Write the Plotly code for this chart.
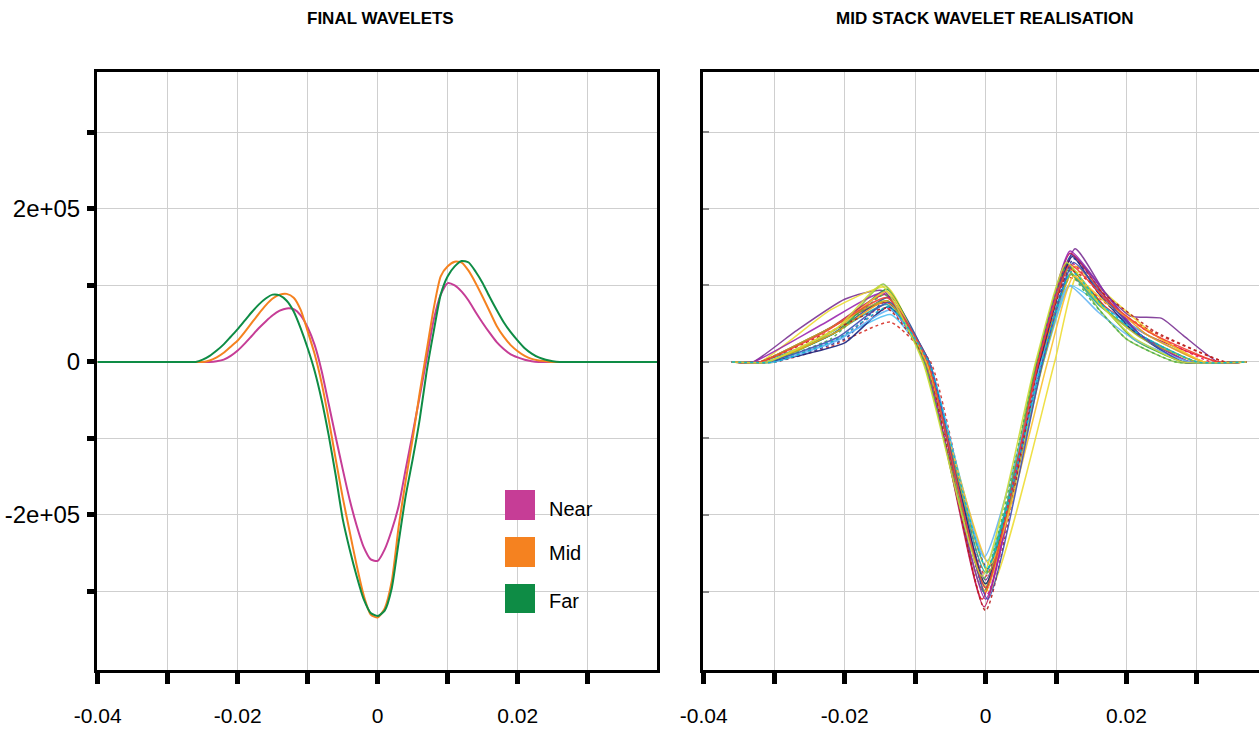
import plotly.graph_objects as go

# ---------------- data (time in ms, amplitude in thousands) ----------------
t_final = [-40, -30, -29, -28, -27, -26, -25, -24, -23, -22, -21, -20, -19, -18, -17, -16, -15, -14,
           -13, -12, -11, -10, -9, -8, -7, -6, -5, -4, -3, -2, -1, 0, 1, 2, 3, 4, 5, 6, 7, 8, 9,
           10, 11, 12, 13, 14, 15, 16, 17, 18, 19, 20, 21, 22, 23, 24, 25, 26, 27, 28, 29, 30, 40]

near_k = [0, 0, 0, 0, 0, 0, 0, 0, 1, 3, 8, 15, 24, 34, 44, 53, 61, 67,
          70, 69, 61, 45, 22, -12, -55, -98, -140, -180, -214, -242, -258, -260, -245, -220, -188, -140, -93, -45, 5, 55, 88,
          103, 100, 92, 80, 65, 51, 38, 26, 17, 10, 6, 3, 1, 0, 0, 0, 0, 0, 0, 0, 0, 0]

mid_k = [0, 0, 0, 0, 0, 0, 0, 2, 6, 12, 20, 28, 39, 51, 63, 74, 83, 88,
         89, 84, 68, 40, 10, -28, -75, -127, -177, -222, -266, -305, -330, -334, -322, -287, -215, -155, -100, -40, 15, 70, 112,
         125, 131, 130, 119, 103, 85, 66, 47, 33, 22, 14, 8, 4, 2, 1, 0, 0, 0, 0, 0, 0, 0]

far_k = [0, 0, 0, 0, 0, 0, 3, 8, 15, 23, 33, 43, 54, 65, 75, 83, 88, 87,
         80, 66, 44, 18, -12, -50, -96, -148, -205, -245, -280, -310, -328, -332, -325, -296, -235, -175, -127, -75, -12, 40, 88,
         112, 125, 132, 130, 118, 103, 85, 68, 52, 39, 28, 18, 11, 6, 3, 1, 0, 0, 0, 0, 0, 0]

series_names = ["Near", "Mid", "Far"]
series_colors = ["#C63D96", "#F58220", "#0E8C45"]

# Mid stack wavelet realisations: knot times (ms) and amplitudes (thousands)
real_t = [
    [-36, -33, -27, -20, -14.5, -8.3, 0, 7.6, 12.7, 17, 20.5, 25, 28, 33, 37],
    [-36, -32, -22, -14, -8.8, 0.5, 9.8, 13.2, 18, 24, 31, 37],
    [-36, -32, -24, -14, -8, -0.5, 7.5, 11.5, 17, 23, 33, 37],
    [-36, -30, -22, -13.5, -7.8, 0, 7.8, 12, 18, 24, 34, 37],
    [-36, -31, -22, -13.5, -8.2, 0, 7.6, 12.2, 17, 22, 29, 37],
    [-36, -30, -20, -14, -8.5, 0.3, 8, 12.5, 17, 22, 30, 37],
    [-36, -31, -21, -14, -8.6, -0.3, 7.3, 11.5, 16, 21, 28, 37],
    [-36, -30, -20, -14.5, -8.8, 0, 7.2, 11.7, 16, 20, 27, 37],
    [-36, -31, -22, -13.5, -8.2, 0.2, 8.2, 12, 17, 23, 31, 37],
    [-36, -32, -22, -14, -8.3, 0, 7.8, 12, 16, 22, 30, 37],
    [-36, -31, -21, -14, -8, 0, 7.7, 12.8, 18, 23, 31, 37],
    [-36, -32, -22, -14.2, -8.4, -0.2, 7.4, 12, 17, 22, 29, 37],
    [-36, -30, -21, -13.8, -8.1, 0.1, 7.6, 11.8, 17, 23, 32, 37],
    [-36, -31, -20, -13.8, -8, 0, 7.7, 12.3, 16, 21, 28, 37],
    [-36, -33, -23, -14.5, -8.6, 0, 7.5, 12, 17, 22, 29, 37],
    [-36, -32, -23, -14, -8.5, 0.4, 8.2, 12.2, 16.5, 22, 30, 37],
    [-36, -30, -21, -13.5, -8, -0.2, 7.9, 11.8, 16, 21, 29, 37],
    [-36, -32, -22, -14, -8.4, 0, 7.6, 12, 18, 24, 34, 37],
    [-36, -31, -22, -14.3, -8.7, -0.4, 7.3, 11.3, 15, 20, 27, 37],
    [-36, -31, -21, -14, -8.4, 0.6, 8.8, 12.5, 17, 24, 31, 37],
    [-36, -31, -21, -13.6, -8, 0.3, 8.1, 12.5, 17, 22, 28, 37],
    [-36, -32, -23, -14, -8.2, 0, 7.5, 12, 17, 23, 33, 37],
    [-36, -31, -21, -14.8, -8.9, -0.5, 7.1, 11.5, 16, 21, 28, 37],
    [-36, -30, -21, -13.7, -8.1, 0.2, 8, 12.2, 16.5, 22, 30, 37],
]
real_k = [
    [0, 0, 40, 82, 93, 0, -285, 0, 148, 90, 60, 57, 35, 0, 0],
    [0, 0, 68, 98, 0, -300, 0, 118, 82, 35, 0, 0],
    [0, 0, 35, 78, 0, -310, 0, 125, 72, 35, 0, 0],
    [0, 0, 20, 52, 0, -280, 0, 110, 70, 38, 0, 0],
    [0, 0, 35, 85, 0, -295, 0, 140, 90, 35, 0, 0],
    [0, 0, 30, 80, 0, -270, 0, 135, 85, 35, 0, 0],
    [0, 0, 40, 95, 0, -300, 0, 128, 80, 30, 0, 0],
    [0, 0, 50, 102, 0, -290, 0, 120, 70, 30, 0, 0],
    [0, 0, 25, 62, 0, -260, 0, 100, 70, 35, 0, 0],
    [0, 0, 35, 75, 0, -275, 0, 115, 75, 35, 0, 0],
    [0, 0, 40, 80, 0, -300, 0, 125, 75, 35, 0, 0],
    [0, 0, 45, 88, 0, -320, 0, 142, 85, 35, 0, 0],
    [0, 0, 30, 70, 0, -305, 0, 132, 80, 40, 0, 0],
    [0, 0, 25, 72, 0, -290, 0, 138, 90, 40, 0, 0],
    [0, 0, 50, 90, 0, -310, 0, 145, 90, 35, 0, 0],
    [0, 0, 40, 80, 0, -275, 0, 115, 72, 32, 0, 0],
    [0, 0, 28, 68, 0, -255, 0, 100, 65, 30, 0, 0],
    [0, 0, 40, 70, 0, -325, 0, 120, 80, 40, 0, 0],
    [0, 0, 30, 88, 0, -285, 0, 122, 80, 30, 0, 0],
    [0, 0, 45, 92, 0, -265, 0, 112, 78, 35, 0, 0],
    [0, 0, 32, 78, 0, -310, 0, 130, 82, 35, 0, 0],
    [0, 0, 38, 84, 0, -295, 0, 127, 82, 40, 0, 0],
    [0, 0, 45, 100, 0, -280, 0, 130, 78, 32, 0, 0],
    [0, 0, 30, 72, 0, -270, 0, 118, 75, 35, 0, 0],
]
real_colors = ["#7B3294", "#EEDD33", "#E41A1C", "#D73027", "#1F4E9E", "#283593", "#2E9E3E", "#8BC34A",
               "#4FC3F7", "#26A69A", "#F39C12", "#C2185B", "#E91E63", "#1A237E", "#9C27B0", "#AFB42B",
               "#64B5F6", "#B71C1C", "#4CAF50", "#FBC02D", "#3F51B5", "#F44336", "#CDDC39", "#00BCD4"]
real_dash = ["solid", "solid", "solid", "dot", "solid", "dot", "solid", "solid",
             "solid", "solid", "solid", "solid", "dot", "solid", "solid", "solid",
             "solid", "dot", "dot", "solid", "solid", "solid", "solid", "dot"]

x_ticks = [-0.04, -0.03, -0.02, -0.01, 0, 0.01, 0.02, 0.03]
x_ticktext = ["-0.04", "", "-0.02", "", "0", "", "0.02", ""]
y_ticks = [-300000, -200000, -100000, 0, 100000, 200000, 300000]
y_ticktext = ["", "-2e+05", "", "0", "", "2e+05", ""]

# ---------------- figure ----------------
fig = go.Figure()
finals = [near_k, mid_k, far_k]
for name, col, vals in zip(series_names, series_colors, finals):
    fig.add_trace(go.Scatter(
        x=[t / 1000 for t in t_final], y=[v * 1000 for v in vals],
        mode="lines", name=name, line=dict(color=col, width=2, shape="spline", smoothing=0.6),
        xaxis="x", yaxis="y", showlegend=False))

for tt, kk, col, dsh in zip(real_t, real_k, real_colors, real_dash):
    fig.add_trace(go.Scatter(
        x=[t / 1000 for t in tt], y=[v * 1000 for v in kk],
        mode="lines", line=dict(color=col, width=1.5, dash=dsh, shape="spline", smoothing=0.5),
        xaxis="x2", yaxis="y2", showlegend=False, opacity=0.9))

# the page body margin is removed in post_script, so the figure fills the window
W, H = 1259, 729


def px(x):
    return x / W


def py(y):
    return 1 - y / H


dom_y = [py(670), py(72)]
yrange = [-402600, 379000]
xfont = dict(family="Liberation Sans, Arial, sans-serif", size=21, color="black")
yfont = dict(family="Liberation Sans, Arial, sans-serif", size=24, color="black")

common_x = dict(tickvals=x_ticks, ticktext=x_ticktext, ticks="outside", ticklen=11, tickwidth=5,
                tickcolor="black", showline=True, linecolor="black", linewidth=3,
                showgrid=True, gridcolor="#cfcfcf", gridwidth=1, zeroline=False,
                tickfont=xfont, ticklabelstandoff=14, automargin=False)

fig.update_layout(
    width=W, height=H, paper_bgcolor="white", plot_bgcolor="white",
    margin=dict(l=0, r=0, t=0, b=0, pad=0), showlegend=False,
    xaxis=dict(domain=[px(97), px(657)], range=[-0.0401, 0.0399], anchor="y", mirror=True, **common_x),
    yaxis=dict(domain=dom_y, range=yrange, anchor="x", tickvals=y_ticks, ticktext=y_ticktext,
               ticks="outside", ticklen=7, tickwidth=5, tickcolor="black", showline=True,
               linecolor="black", linewidth=3, mirror=True, showgrid=True, gridcolor="#cfcfcf",
               zeroline=False, tickfont=yfont, ticklabelstandoff=2, automargin=False),
    xaxis2=dict(domain=[px(703), 1.0], range=[-0.0401, 0.0388], anchor="y2", mirror=True, **common_x),
    yaxis2=dict(domain=dom_y, range=yrange, anchor="x2", tickvals=y_ticks, showticklabels=False,
                ticks="inside", ticklen=6, tickwidth=1.5, tickcolor="#888888", showline=True,
                linecolor="black", linewidth=3, mirror=False, showgrid=True, gridcolor="#cfcfcf",
                zeroline=False, automargin=False),
)

title_font = dict(family="Liberation Sans, Arial, sans-serif", size=17, color="black")
fig.add_annotation(text="<b>FINAL WAVELETS</b>", x=px(380), y=py(19), xref="paper", yref="paper",
                   showarrow=False, font=title_font, xanchor="center", yanchor="middle")
fig.add_annotation(text="<b>MID STACK WAVELET REALISATION</b>", x=px(985), y=py(19), xref="paper",
                   yref="paper", showarrow=False, font=title_font, xanchor="center", yanchor="middle")

# legend (drawn as boxes + labels inside the left panel)
leg_y = [(490, 520), (537, 567), (584, 613)]
leg_text_y = [509, 553, 601]
for (y0, y1), ty, name, col in zip(leg_y, leg_text_y, series_names, series_colors):
    fig.add_shape(type="rect", xref="x domain", yref="y domain",
                  x0=(505 - 97) / 560, x1=(535 - 97) / 560,
                  y0=(670 - y1) / 598, y1=(670 - y0) / 598,
                  fillcolor=col, line=dict(width=0))
    fig.add_annotation(text=name, xref="x domain", yref="y domain", x=(547 - 97) / 560,
                       y=(670 - ty) / 598, xanchor="left", yanchor="middle", showarrow=False,
                       font=dict(family="Liberation Sans, Arial, sans-serif", size=20, color="black"))

fig.write_html("out.html", config={"displayModeBar": False},
               post_script="document.body.style.margin='0px';document.body.style.overflow='hidden';")
